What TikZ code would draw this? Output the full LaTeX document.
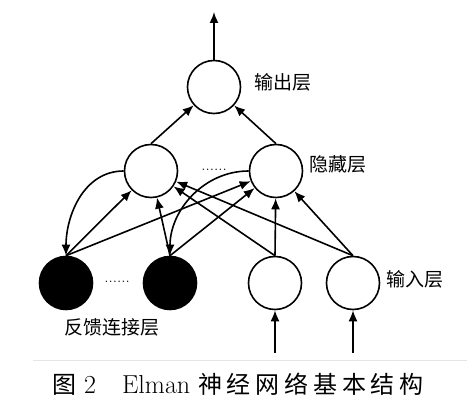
\documentclass[tikz,border=0pt]{standalone}
\usepackage{fontspec}
\newfontfamily\cjk{Noto Sans CJK SC}
\newfontfamily\cjkcap[LetterSpace=20]{Noto Sans CJK SC}
\usetikzlibrary{arrows.meta}
\begin{document}
\begin{tikzpicture}[
  x=1pt, y=1pt,
  neuron/.style={circle, draw, line width=1.6pt, minimum size=53pt, inner sep=0pt},
  context/.style={neuron, fill=black},
  lbl/.style={font=\cjk\fontsize{19}{22}\selectfont},
  dots/.style={font=\fontsize{17}{20}\selectfont, anchor=base, inner sep=0pt},
  >={Latex[length=11pt,width=9pt]},
  line width=1.6pt
]
\useasboundingbox (0,0) rectangle (467,413);
\node[neuron] (out) at (214,326) {};
\node[neuron] (h1) at (151,242) {};
\node[neuron, right of=h1, node distance=125pt] (h2) {};
\node[context] (fb1) at (66,130) {};
\node[context, right of=fb1, node distance=104pt] (fb2) {};
\node[neuron] (in1) at (275,130) {};
\node[neuron, right of=in1, node distance=78pt] (in2) {};

% labels
\node[lbl] (outlbl) at (283,331) {输出层};
\node[lbl] (hidlbl) at (338,249) {隐藏层};
\node[lbl] (inlbl) at (415,134) {输入层};
\node[lbl] (fblbl) at (112,86) {反馈连接层};
\node[dots] (hdots) at (214,242) {......};
\node[dots] (fbdots) at (117,130) {......};

\coordinate (top) at (214,401);
\coordinate (src1) at (275,60);
\coordinate (src2) at (353,60);

% output
\draw[->] (out) -- (top);
\draw[->] (h1.north) -- (out);
\draw[->] (h2.north) -- (out);

% feedback path
\draw[->] (h1.west) to[out=180,in=90] (fb1.north);
\draw[->] (h2.west) to[out=180,in=90] (fb2.north);

% lower layers to hidden layer
\foreach \n in {fb1,fb2,in1,in2}{
  \draw[->] (\n.north) -- (h1);
  \draw[->] (\n.north) -- (h2);
}

% inputs
\draw[->] (src1) -- (in1);
\draw[->] (src2) -- (in2);

% caption
\draw[black!10, line width=0.6pt] (33,53) -- (467,53);
\node[font=\fontsize{26}{30}\selectfont] (caption) at (238,29)
  {{\cjk\fontsize{24}{28}\selectfont 图}~2\hspace{26pt}Elman~{\cjkcap\fontsize{24}{28}\selectfont 神经网络基本结构}};
\end{tikzpicture}
\end{document}
